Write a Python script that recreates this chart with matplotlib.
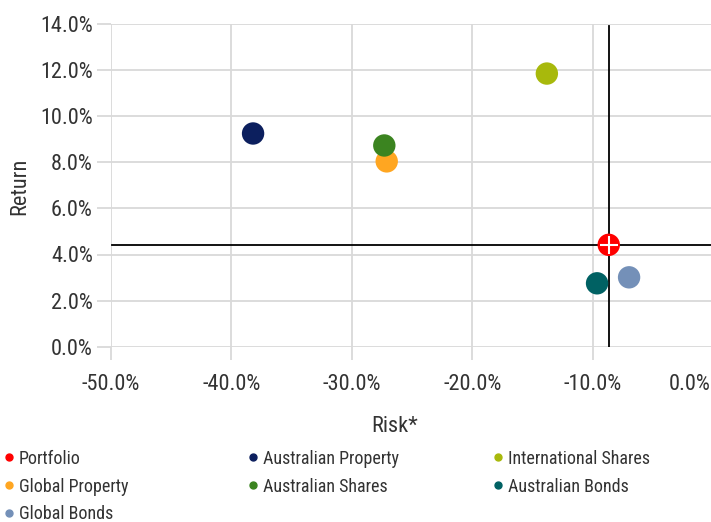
import matplotlib
matplotlib.use("Agg")
import matplotlib.pyplot as plt
from matplotlib.lines import Line2D
from matplotlib.ticker import FuncFormatter
from matplotlib.transforms import ScaledTranslation

plt.rcParams['font.family'] = ['Roboto Condensed', 'Archivo Narrow', 'DejaVu Sans']

# asset classes: risk (x) and return (y), in percent
names = ["Portfolio", "Australian Property", "International Shares",
         "Global Property", "Australian Shares", "Australian Bonds",
         "Global Bonds"]
risk = [-8.66, -38.2, -13.8, -27.1, -27.3, -9.63, -6.97]
ret = [4.42, 9.25, 11.85, 8.04, 8.73, 2.75, 3.01]
colors = ["#FF0000", "#0C1F5E", "#A8B90C", "#FFA621", "#3B8420",
          "#006163", "#7490B8"]

x_ticks = [-50, -40, -30, -20, -10, 0]
y_ticks = [0, 2, 4, 6, 8, 10, 12, 14]

grid_col = "#D9D9D9"
text_col = "#333333"

fig = plt.figure(figsize=(7.11, 5.22), dpi=100)
ax = fig.add_axes([111 / 711, 175.3 / 522, 602 / 711, 322.7 / 522])

ax.set_xlim(-50, 0)
ax.set_ylim(0, 14)
ax.set_xticks(x_ticks)
ax.set_yticks(y_ticks)
ax.xaxis.set_major_formatter(FuncFormatter(lambda v, p: f"{v:.1f}%"))
ax.yaxis.set_major_formatter(FuncFormatter(lambda v, p: f"{v:.1f}%"))
ax.grid(True, color=grid_col, linewidth=1.3, zorder=0)
for s in ax.spines.values():
    s.set_visible(False)
ax.tick_params(axis='y', length=10, width=1.3, color=grid_col, pad=3,
               labelsize=16, labelcolor=text_col)
ax.tick_params(axis='x', length=9.5, width=1.3, color=grid_col, pad=10,
               labelsize=16, labelcolor=text_col)

# last x label is kept inside the chart, like the original
fig.canvas.draw()
last = ax.get_xticklabels()[-1]
last.set_transform(last.get_transform() + ScaledTranslation(-23 / 100, 0, fig.dpi_scale_trans))

# portfolio crosshair
ax.axhline(ret[0], color="black", linewidth=1.3, zorder=2, xmin=0.002)
ax.axvline(risk[0], color="black", linewidth=1.3, zorder=2, ymax=0.995, ymin=-0.006)

for i in range(1, len(names)):
    ax.scatter(risk[i], ret[i], s=260, color=colors[i], edgecolors="none", zorder=3)
ax.scatter(risk[0], ret[0], s=260, color=colors[0], edgecolors="none", zorder=4)
ax.scatter(risk[0], ret[0], s=150, marker="+", color="white", linewidths=1.5, zorder=5)

fig.text(20 / 711, 1 - 186 / 522, "Return", rotation=90, ha="center", va="center",
         fontsize=16, color=text_col)
fig.text(395 / 711, 1 - 426 / 522, "Risk*", ha="center", va="center",
         fontsize=16, color=text_col)

# legend laid out in rows of three
col_x = [0 / 711, 244 / 711, 489 / 711]
for c in range(3):
    idx = list(range(c, len(names), 3))
    handles = [Line2D([], [], linestyle="none", marker="o", markersize=5,
                      color=colors[i]) for i in idx]
    fig.legend(handles, [names[i] for i in idx], loc="upper left",
               bbox_to_anchor=(col_x[c], 1 - 446 / 522), frameon=False,
               fontsize=13, handlelength=0.6, handletextpad=0.25,
               labelspacing=0.55, borderaxespad=0, borderpad=0.2,
               labelcolor=text_col)

fig.savefig("out.png", dpi=100)
